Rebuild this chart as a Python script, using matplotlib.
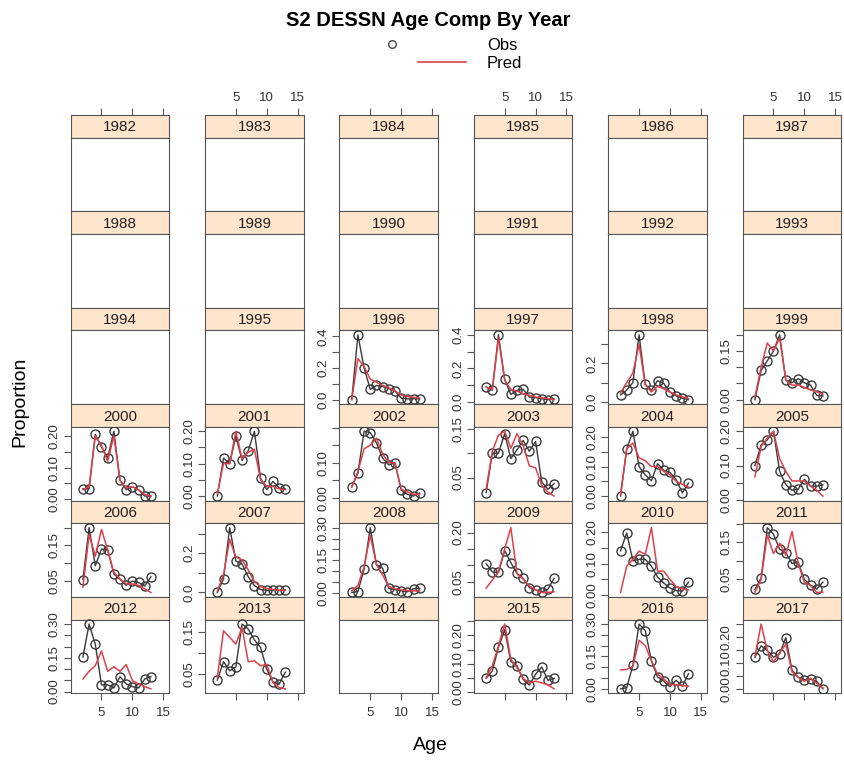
import numpy as np
import matplotlib.pyplot as plt

plt.rcParams['font.family'] = ['Liberation Sans', 'DejaVu Sans']

# ages with data in every filled panel
ages = [2, 3, 4, 5, 6, 7, 8, 9, 10, 11, 12, 13]
years = list(range(1982, 2018))

obs = {
    1996: [0.00, 0.41, 0.20, 0.065, 0.09, 0.083, 0.07, 0.055, 0.01, 0.005, 0.005, 0.005],
    1997: [0.09, 0.07, 0.40, 0.135, 0.045, 0.07, 0.075, 0.03, 0.026, 0.02, 0.014, 0.02],
    1998: [0.035, 0.06, 0.10, 0.35, 0.09, 0.06, 0.11, 0.095, 0.05, 0.03, 0.018, 0.01],
    1999: [0.0, 0.09, 0.12, 0.15, 0.20, 0.06, 0.052, 0.065, 0.052, 0.045, 0.013, 0.011],
    2000: [0.033, 0.033, 0.205, 0.165, 0.13, 0.215, 0.06, 0.03, 0.04, 0.03, 0.01, 0.01],
    2001: [0.0, 0.117, 0.10, 0.185, 0.11, 0.14, 0.20, 0.055, 0.02, 0.045, 0.025, 0.022],
    2002: [0.032, 0.07, 0.19, 0.186, 0.157, 0.113, 0.094, 0.10, 0.022, 0.01, 0.005, 0.014],
    2003: [0.019, 0.10, 0.10, 0.14, 0.089, 0.107, 0.126, 0.104, 0.124, 0.041, 0.026, 0.0375],
    2004: [0.0, 0.16, 0.22, 0.10, 0.072, 0.052, 0.11, 0.087, 0.08, 0.056, 0.011, 0.044],
    2005: [0.10, 0.16, 0.175, 0.20, 0.083, 0.044, 0.028, 0.031, 0.06, 0.04, 0.04, 0.044],
    2006: [0.054, 0.20, 0.093, 0.14, 0.138, 0.07, 0.055, 0.038, 0.05, 0.046, 0.036, 0.062],
    2007: [0.0, 0.07, 0.33, 0.16, 0.145, 0.08, 0.035, 0.015, 0.01, 0.013, 0.01, 0.013],
    2008: [0.003, 0.007, 0.11, 0.30, 0.13, 0.114, 0.022, 0.016, 0.011, 0.006, 0.02, 0.022],
    2009: [0.105, 0.08, 0.078, 0.145, 0.108, 0.075, 0.06, 0.032, 0.025, 0.019, 0.027, 0.06],
    2010: [0.141, 0.198, 0.109, 0.114, 0.114, 0.092, 0.057, 0.038, 0.022, 0.014, 0.012, 0.041],
    2011: [0.023, 0.054, 0.19, 0.172, 0.132, 0.122, 0.093, 0.097, 0.05, 0.035, 0.024, 0.043],
    2012: [0.154, 0.30, 0.21, 0.03, 0.03, 0.016, 0.066, 0.034, 0.022, 0.016, 0.056, 0.066],
    2013: [0.036, 0.08, 0.058, 0.068, 0.17, 0.158, 0.132, 0.114, 0.062, 0.032, 0.026, 0.055],
    2015: [0.049, 0.075, 0.158, 0.22, 0.108, 0.093, 0.045, 0.025, 0.063, 0.089, 0.042, 0.049],
    2016: [0.0, 0.005, 0.11, 0.30, 0.27, 0.13, 0.055, 0.035, 0.01, 0.04, 0.012, 0.07],
    2017: [0.122, 0.166, 0.148, 0.122, 0.135, 0.198, 0.072, 0.045, 0.035, 0.037, 0.029, 0.0],
}

pred = {
    1996: [0.0, 0.26, 0.21, 0.13, 0.11, 0.09, 0.075, 0.055, 0.03, 0.02, 0.015, 0.01],
    1997: [0.09, 0.075, 0.38, 0.13, 0.075, 0.065, 0.05, 0.04, 0.03, 0.025, 0.02, 0.015],
    1998: [0.045, 0.10, 0.15, 0.30, 0.088, 0.05, 0.08, 0.067, 0.05, 0.035, 0.025, 0.015],
    1999: [0.008, 0.10, 0.175, 0.15, 0.19, 0.06, 0.045, 0.045, 0.038, 0.03, 0.024, 0.017],
    2000: [0.03, 0.04, 0.20, 0.17, 0.12, 0.20, 0.06, 0.035, 0.04, 0.03, 0.015, 0.01],
    2001: [0.008, 0.10, 0.10, 0.20, 0.115, 0.135, 0.145, 0.05, 0.03, 0.03, 0.022, 0.02],
    2002: [0.03, 0.075, 0.14, 0.15, 0.17, 0.125, 0.10, 0.10, 0.025, 0.017, 0.01, 0.01],
    2003: [0.026, 0.104, 0.137, 0.145, 0.11, 0.14, 0.115, 0.074, 0.07, 0.034, 0.02, 0.012],
    2004: [0.006, 0.16, 0.18, 0.13, 0.12, 0.10, 0.10, 0.084, 0.072, 0.05, 0.04, 0.03],
    2005: [0.067, 0.155, 0.18, 0.20, 0.12, 0.083, 0.055, 0.055, 0.055, 0.04, 0.028, 0.011],
    2006: [0.033, 0.18, 0.12, 0.195, 0.138, 0.075, 0.056, 0.042, 0.042, 0.038, 0.028, 0.018],
    2007: [0.005, 0.09, 0.27, 0.18, 0.165, 0.115, 0.055, 0.03, 0.02, 0.015, 0.012, 0.01],
    2008: [0.01, 0.035, 0.12, 0.265, 0.13, 0.083, 0.03, 0.02, 0.015, 0.012, 0.01, 0.01],
    2009: [0.03, 0.055, 0.08, 0.15, 0.215, 0.073, 0.058, 0.037, 0.025, 0.017, 0.017, 0.019],
    2010: [0.008, 0.092, 0.114, 0.14, 0.13, 0.215, 0.076, 0.076, 0.05, 0.027, 0.02, 0.016],
    2011: [0.016, 0.05, 0.17, 0.12, 0.148, 0.116, 0.18, 0.093, 0.043, 0.034, 0.015, 0.016],
    2012: [0.056, 0.09, 0.115, 0.18, 0.09, 0.11, 0.09, 0.12, 0.049, 0.034, 0.022, 0.012],
    2013: [0.042, 0.154, 0.138, 0.122, 0.162, 0.08, 0.082, 0.07, 0.074, 0.03, 0.018, 0.015],
    2015: [0.051, 0.093, 0.164, 0.24, 0.116, 0.087, 0.049, 0.033, 0.039, 0.033, 0.027, 0.012],
    2016: [0.088, 0.09, 0.104, 0.225, 0.20, 0.13, 0.068, 0.045, 0.02, 0.02, 0.015, 0.012],
    2017: [0.125, 0.25, 0.148, 0.104, 0.14, 0.172, 0.066, 0.045, 0.029, 0.041, 0.022, 0.004],
}

# minor tick step and labelled ticks for each panel's free y axis
ytick_step = {1996: 0.1, 1997: 0.1, 1998: 0.1, 2007: 0.1}
ytick_labels = {
    1996: ["0.0", "0.2", "0.4"], 1997: ["0.0", "0.2", "0.4"], 1998: ["0.0", "0.2"],
    1999: ["0.00", "0.15"], 2000: ["0.00", "0.10", "0.20"], 2001: ["0.00", "0.10", "0.20"],
    2002: ["0.00", "0.10"], 2003: ["0.05", "0.15"], 2004: ["0.00", "0.10", "0.20"],
    2005: ["0.00", "0.10", "0.20"], 2006: ["0.05", "0.15"], 2007: ["0.0", "0.2"],
    2008: ["0.00", "0.15", "0.30"], 2009: ["0.05", "0.20"], 2010: ["0.00", "0.10", "0.20"],
    2011: ["0.05", "0.15"], 2012: ["0.00", "0.15", "0.30"], 2013: ["0.05", "0.15"],
    2015: ["0.00", "0.10", "0.20"], 2016: ["0.00", "0.15", "0.30"], 2017: ["0.00", "0.10", "0.20"],
}
xticks = [5, 10, 15]

W, H = 845, 760
fig = plt.figure(figsize=(W / 100, H / 100), dpi=100)

edge = '#555555'
obs_col = '#3a3a3a'
pred_col = '#e0404c'
strip_col = '#ffe5cc'
tick_txt = '#333333'

col_left = 70.7
col_step = 134.4
pw = 98.6
row_top0 = 115
row_step = 96.4
strip_h = 22.5

def box(x0, y0, w, h):
    return [x0 / W, 1 - (y0 + h) / H, w / W, h / H]

xlim = (1 - 0.98, 15 + 0.98)

for k, yr in enumerate(years):
    r, c = divmod(k, 6)
    x0 = col_left + c * col_step
    y0 = row_top0 + r * row_step

    # strip
    sax = fig.add_axes(box(x0, y0, pw, strip_h))
    sax.set_facecolor(strip_col)
    sax.set_xlim(xlim)
    sax.set_ylim(0, 1)
    sax.set_yticks([])
    sax.text(0.5, 0.45, str(yr), transform=sax.transAxes, ha='center', va='center',
             fontsize=11, color='#222222')
    for s in sax.spines.values():
        s.set_color(edge)
    if r == 0:
        sax.xaxis.set_ticks_position('top')
        sax.set_xticks(xticks)
        sax.tick_params(axis='x', length=5, width=0.8, color=edge, labelsize=9.5, pad=3,
                        labelcolor=tick_txt)
        if c % 2 == 1:
            sax.set_xticklabels([str(t) for t in xticks])
        else:
            sax.set_xticklabels([])
    else:
        sax.set_xticks([])

    # panel
    ax = fig.add_axes(box(x0, y0 + strip_h, pw, row_step - strip_h))
    ax.set_xlim(xlim)
    for s in ax.spines.values():
        s.set_color(edge)
    if r == 5:
        ax.set_xticks(xticks)
        ax.tick_params(axis='x', length=5, width=0.8, color=edge, labelsize=9.5, pad=5,
                       labelcolor=tick_txt)
        if c % 2 == 0:
            ax.set_xticklabels([str(t) for t in xticks])
        else:
            ax.set_xticklabels([])
    else:
        ax.set_xticks([])

    if yr in obs:
        o = np.array(obs[yr])
        p = np.array(pred[yr])
        lo = min(o.min(), p.min())
        hi = max(o.max(), p.max())
        pad = 0.07 * (hi - lo)
        ax.set_ylim(lo - pad, hi + pad)
        step = ytick_step.get(yr, 0.05)
        ticks = np.arange(0, 0.5 + 1e-9, step)
        ticks = [t for t in ticks if lo - pad <= t <= hi + pad]
        ax.set_yticks(ticks)
        labs = ytick_labels[yr]
        ax.set_yticklabels([next((l for l in labs if abs(float(l) - t) < 1e-6), '') for t in ticks])
        ax.tick_params(axis='y', length=5, width=0.8, color=edge, labelsize=9.5, pad=2,
                       labelrotation=90, labelcolor=tick_txt)
        for lab in ax.get_yticklabels():
            lab.set_va('center')
        ax.plot(ages, o, color=obs_col, lw=1.0, zorder=2)
        ax.plot(ages, o, 'o', mfc='none', mec=obs_col, ms=6.5, mew=1.0, zorder=3)
        ax.plot(ages, p, color=pred_col, lw=1.1, zorder=4)
    else:
        ax.set_ylim(0, 1)
        ax.set_yticks([])

fig.text(428 / W, 1 - 20 / H, "S2 DESSN Age Comp By Year", ha='center', va='center',
         fontsize=14.5, fontweight='bold')
# legend
fig.add_artist(plt.Line2D([392 / W], [1 - 44 / H], marker='o', mfc='none', mec='#444444',
                          ms=5.5, mew=1.0, ls='none'))
fig.add_artist(plt.Line2D([418 / W, 466 / W], [1 - 62 / H, 1 - 62 / H], color=pred_col, lw=1.2))
fig.text(487 / W, 1 - 45 / H, "Obs", ha='left', va='center', fontsize=12)
fig.text(487 / W, 1 - 63 / H, "Pred", ha='left', va='center', fontsize=12)

fig.text(430 / W, 1 - 745 / H, "Age", ha='center', va='center', fontsize=14)
fig.text(20 / W, 1 - 402 / H, "Proportion", ha='center', va='center', fontsize=14, rotation=90)

fig.savefig("out.png", dpi=100)
